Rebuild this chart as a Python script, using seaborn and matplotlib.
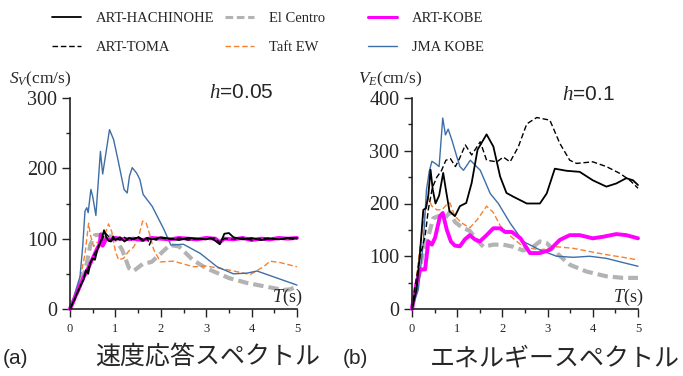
import matplotlib
matplotlib.use("Agg")
import matplotlib.pyplot as plt
from matplotlib.ticker import MultipleLocator
from matplotlib.lines import Line2D
import seaborn as sns

# ---------------- data ----------------
# (a) velocity response spectrum, h=0.05
HACH_L_T = [0, 0.1, 0.2, 0.3, 0.35, 0.4, 0.45, 0.5, 0.55, 0.6, 0.65, 0.7, 0.75, 0.8, 0.85, 0.9, 0.95, 1.0,
            1.1, 1.2, 1.3, 1.4, 1.5, 1.6, 1.7, 1.8, 1.9, 2.0, 2.2, 2.4, 2.6, 2.8, 3.0, 3.1, 3.2, 3.3, 3.4,
            3.5, 3.6, 3.8, 4.0, 4.2, 4.4, 4.6, 4.8, 5.0]
HACH_L_V = [0, 14, 29, 42, 55, 50, 66, 72, 70, 84, 92, 100, 112, 102, 97, 96, 103, 98,
            102, 96, 101, 99, 102, 97, 101, 99, 100, 102, 100, 98, 101, 100, 99, 101, 97, 92, 107,
            108, 102, 99, 101, 98, 100, 99, 101, 101]
TOMA_L_T = [0, 0.1, 0.2, 0.3, 0.4, 0.5, 0.6, 0.7, 0.78, 0.85, 0.9, 1.0, 1.1, 1.2, 1.3, 1.4, 1.5, 1.6, 1.7,
            1.75, 1.8, 1.9, 2.0, 2.2, 2.4, 2.6, 2.8, 3.0, 3.2, 3.3, 3.4, 3.6, 3.8, 4.0, 4.2, 4.4, 4.6, 4.8, 5.0]
TOMA_L_V = [0, 13, 28, 44, 58, 73, 86, 98, 108, 103, 97, 101, 98, 102, 97, 100, 103, 99, 101,
            91, 100, 98, 101, 99, 101, 98, 100, 99, 101, 94, 100, 99, 101, 98, 100, 101, 99, 100, 99]
KOBE_L_T = [0, 0.1, 0.2, 0.3, 0.4, 0.5, 0.6, 0.65, 0.68, 0.72, 0.8, 0.9, 1.0, 1.2, 1.4, 1.6, 1.8, 2.0,
            2.2, 2.4, 2.6, 2.8, 3.0, 3.2, 3.3, 3.4, 3.6, 3.8, 4.0, 4.2, 4.4, 4.6, 4.8, 5.0]
KOBE_L_V = [0, 15, 30, 45, 58, 72, 86, 92, 106, 90, 100, 98, 101, 99, 100, 98, 101, 100,
            99, 101, 100, 99, 101, 100, 95, 100, 99, 101, 98, 100, 99, 101, 100, 101]
EL_L_T = [0, 0.2, 0.35, 0.45, 0.55, 0.8, 1.0, 1.15, 1.3, 1.4, 1.6, 1.8, 2.05, 2.2, 2.4, 2.7, 3.0, 3.5,
          3.9, 4.3, 4.7, 4.85, 5.0]
EL_L_V = [0, 30, 58, 92, 105, 106, 100, 84, 58, 54, 64, 67, 82, 91, 89, 70, 58, 44,
          37, 32, 27, 28, 32]
TAFT_L_T = [0, 0.15, 0.26, 0.33, 0.41, 0.45, 0.52, 0.6, 0.7, 0.78, 0.85, 0.92, 1.0, 1.07, 1.18, 1.29,
            1.4, 1.5, 1.6, 1.68, 1.76, 1.84, 1.99, 2.28, 2.72, 3.01, 3.46, 3.97, 4.26, 4.41, 4.63, 5.0]
TAFT_L_V = [0, 22, 55, 78, 122, 105, 89, 95, 92, 108, 121, 110, 82, 70, 72, 82,
            88, 100, 125, 122, 105, 85, 67, 68, 60, 61, 56, 49, 60, 68, 66, 60]
JMA_L_T = [0, 0.22, 0.28, 0.33, 0.37, 0.40, 0.46, 0.50, 0.57, 0.67, 0.72, 0.78, 0.87, 0.96, 1.07, 1.19,
           1.26, 1.31, 1.37, 1.47, 1.54, 1.61, 1.81, 2.07, 2.22, 2.5, 2.87, 3.24, 3.6, 3.9, 4.12, 4.34,
           4.56, 4.78, 5.0]
JMA_L_V = [0, 46, 89, 139, 144, 137, 170, 160, 133, 224, 192, 217, 255, 241, 208, 170,
           165, 189, 201, 193, 184, 163, 146, 113, 91, 92, 79, 60, 50, 51, 54, 49,
           44, 39, 34]

# (b) energy spectrum, h=0.1
HACH_R_T = [0, 0.10, 0.18, 0.25, 0.31, 0.36, 0.41, 0.46, 0.52, 0.60, 0.69, 0.75, 0.83, 0.95, 1.06, 1.2,
            1.32, 1.45, 1.65, 1.8, 1.95, 2.09, 2.24, 2.54, 2.83, 2.98, 3.16, 3.42, 3.71, 4.0, 4.3, 4.52,
            4.74, 4.89, 5.0]
HACH_R_V = [0, 37, 110, 188, 191, 215, 264, 226, 200, 215, 258, 226, 185, 176, 195, 201,
            239, 302, 331, 308, 251, 220, 213, 200, 200, 219, 266, 262, 260, 244, 232, 238,
            248, 244, 235]
TOMA_R_T = [0, 0.07, 0.18, 0.29, 0.36, 0.45, 0.55, 0.65, 0.75, 0.85, 0.96, 1.05, 1.18, 1.32, 1.51, 1.65,
            1.88, 2.02, 2.17, 2.35, 2.54, 2.76, 3.05, 3.27, 3.49, 3.64, 4.0, 4.3, 4.6, 4.82, 5.0]
TOMA_R_V = [0, 43, 100, 138, 188, 230, 250, 262, 282, 285, 270, 285, 311, 292, 317, 282,
            279, 288, 279, 307, 351, 363, 358, 314, 282, 276, 279, 270, 257, 244, 229]
KOBE_R_T = [0, 0.03, 0.10, 0.18, 0.29, 0.36, 0.44, 0.51, 0.62, 0.68, 0.77, 0.86, 0.95, 1.06, 1.17, 1.28,
            1.39, 1.5, 1.65, 1.8, 1.95, 2.06, 2.21, 2.4, 2.61, 2.83, 3.05, 3.27, 3.49, 3.71, 4.0, 4.23,
            4.52, 4.74, 5.0]
KOBE_R_V = [0, 18, 49, 75, 75, 128, 122, 135, 176, 182, 150, 128, 120, 119, 132, 140,
            132, 128, 140, 153, 153, 146, 146, 134, 106, 106, 112, 131, 140, 140, 134, 137,
            142, 140, 134]
EL_R_T = [0, 0.1, 0.25, 0.32, 0.40, 0.47, 0.58, 0.66, 0.73, 0.84, 0.95, 1.1, 1.28, 1.43, 1.58, 1.8,
          2.02, 2.24, 2.46, 2.68, 2.83, 2.98, 3.2, 3.49, 3.86, 4.3, 4.67, 5.0]
EL_R_V = [0, 40, 112, 125, 150, 172, 176, 178, 172, 184, 165, 155, 148, 131, 118, 122,
          122, 118, 111, 118, 128, 125, 106, 84, 71, 62, 59, 59]
TAFT_R_T = [0, 0.10, 0.18, 0.27, 0.36, 0.44, 0.55, 0.66, 0.77, 0.84, 0.95, 1.1, 1.28, 1.45, 1.65, 1.8,
            1.95, 2.17, 2.46, 2.83, 3.2, 3.57, 3.93, 4.3, 4.67, 5.0]
TAFT_R_V = [0, 62, 119, 176, 210, 195, 188, 188, 198, 201, 176, 163, 154, 170, 195, 183,
            158, 139, 118, 112, 118, 115, 109, 103, 98, 93]
JMA_R_T = [0, 0.14, 0.25, 0.32, 0.38, 0.44, 0.53, 0.60, 0.68, 0.74, 0.80, 0.88, 0.99, 1.06, 1.14, 1.29,
           1.51, 1.73, 1.91, 2.17, 2.46, 2.83, 3.2, 3.57, 3.93, 4.3, 4.67, 5.0]
JMA_R_V = [0, 37, 125, 226, 260, 280, 275, 270, 362, 330, 341, 321, 289, 270, 263, 282,
           263, 219, 200, 163, 128, 112, 100, 98, 100, 96, 88, 81]

SERIES = ["ART-HACHINOHE", "ART-TOMA", "El Centro", "Taft EW", "ART-KOBE", "JMA KOBE"]
X_TICKS = [0, 1, 2, 3, 4, 5]
Y_TICKS_A = [0, 100, 200, 300]
Y_TICKS_B = [0, 100, 200, 300, 400]

# ---------------- style ----------------
sns.set_style("ticks")
plt.rcParams["font.family"] = ["Liberation Serif", "Noto Sans CJK JP"]
plt.rcParams["mathtext.fontset"] = "custom"
plt.rcParams["mathtext.it"] = "Liberation Serif:italic"
plt.rcParams["mathtext.rm"] = "Liberation Serif"

STY = {
    "ART-HACHINOHE": dict(color="black", lw=1.3, dashes=None),
    "ART-TOMA": dict(color="black", lw=1.0, dashes=(4, 2)),
    "El Centro": dict(color="#b3b3b3", lw=3.0, dashes=(2.5, 1.2)),
    "Taft EW": dict(color="#f58231", lw=1.0, dashes=(4, 2)),
    "ART-KOBE": dict(color="#ff00ff", lw=2.8, dashes=None),
    "JMA KOBE": dict(color="#3d6ea8", lw=1.0, dashes=None),
}

fig = plt.figure(figsize=(6.83, 3.76), dpi=100)
axL = fig.add_axes([70 / 683, 1 - 309 / 376, 227 / 683, 211 / 376])
axR = fig.add_axes([412 / 683, 1 - 309 / 376, 226 / 683, 211 / 376])

dataL = {
    "El Centro": (EL_L_T, EL_L_V), "Taft EW": (TAFT_L_T, TAFT_L_V), "JMA KOBE": (JMA_L_T, JMA_L_V),
    "ART-KOBE": (KOBE_L_T, KOBE_L_V), "ART-TOMA": (TOMA_L_T, TOMA_L_V),
    "ART-HACHINOHE": (HACH_L_T, HACH_L_V),
}
dataR = {
    "El Centro": (EL_R_T, EL_R_V), "Taft EW": (TAFT_R_T, TAFT_R_V), "JMA KOBE": (JMA_R_T, JMA_R_V),
    "ART-KOBE": (KOBE_R_T, KOBE_R_V), "ART-TOMA": (TOMA_R_T, TOMA_R_V),
    "ART-HACHINOHE": (HACH_R_T, HACH_R_V),
}


def draw(ax, data):
    for name, (t, v) in data.items():
        s = STY[name]
        sns.lineplot(x=t, y=v, ax=ax, color=s["color"], linewidth=s["lw"], errorbar=None)
        ln = ax.lines[-1]
        if s["dashes"] is not None:
            ln.set_dashes(s["dashes"])
        ln.set_solid_joinstyle("round")
        ln.set_clip_on(False)


draw(axL, dataL)
draw(axR, dataR)

for ax, ymax, yt in [(axL, 300, Y_TICKS_A), (axR, 400, Y_TICKS_B)]:
    ax.set_xlim(0, 5)
    ax.set_ylim(0, ymax)
    ax.set_xticks(X_TICKS)
    ax.set_yticks(yt)
    ax.xaxis.set_minor_locator(MultipleLocator(0.5))
    ax.yaxis.set_minor_locator(MultipleLocator(50))
    ax.set_xticklabels([str(x) for x in X_TICKS], fontsize=9)
    ax.set_yticklabels([str(y) for y in yt], fontsize=14.5)
    ax.tick_params(axis="both", which="major", direction="out", length=6, width=1.0, color="#222222")
    ax.tick_params(axis="both", which="minor", direction="out", length=3, width=1.0, color="#222222")
    ax.tick_params(axis="x", which="major", pad=4)
    ax.tick_params(axis="y", which="major", pad=3)
    for sp in ["top", "right"]:
        ax.spines[sp].set_visible(False)
    for sp in ["left", "bottom"]:
        ax.spines[sp].set_linewidth(1.2)
        ax.spines[sp].set_color("#222222")
    ax.set_xlabel("")
    ax.set_ylabel("")
    ax.text(1.022, 0.057, r"$T$(s)", transform=ax.transAxes, ha="right", va="center", fontsize=13)

axL.text(0.612, 1.025, r"$h$=0.05", transform=axL.transAxes, ha="left", va="center",
         fontsize=15, family="Liberation Sans")
axR.text(0.664, 1.015, r"$h$=0.1", transform=axR.transAxes, ha="left", va="center",
         fontsize=15, family="Liberation Sans")

fig.text(9 / 683, 1 - 79 / 376, r"$S_V$(cm/s)", ha="left", va="center", fontsize=12.5)
fig.text(358 / 683, 1 - 79 / 376, r"$V_E$(cm/s)", ha="left", va="center", fontsize=12.5)

# captions
fig.text(3 / 683, 1 - 358 / 376, "(a)", ha="left", va="center", fontsize=15, family="Liberation Sans")
fig.text(95 / 683, 1 - 358 / 376, "速度応答スペクトル", ha="left", va="center", fontsize=18,
         family="Noto Sans CJK JP")
fig.text(343 / 683, 1 - 358 / 376, "(b)", ha="left", va="center", fontsize=15, family="Liberation Sans")
fig.text(430 / 683, 1 - 358 / 376, "エネルギースペクトル", ha="left", va="center", fontsize=18,
         family="Noto Sans CJK JP")


def handle(name):
    s = STY[name]
    h = Line2D([], [], color=s["color"], lw=min(s["lw"], 2.2))
    if s["dashes"] is not None:
        h.set_dashes(s["dashes"])
    return h


for names, x in [(SERIES[0:2], 52), (SERIES[2:4], 225), (SERIES[4:6], 368)]:
    leg = fig.legend([handle(n) for n in names], names, loc="upper left",
                     bbox_to_anchor=(x / 683, 1 - 12 / 376), frameon=False, fontsize=10.5,
                     handlelength=2.0, handletextpad=1.0, labelspacing=1.05,
                     borderpad=0, borderaxespad=0)

fig.savefig("out.png", dpi=100)
